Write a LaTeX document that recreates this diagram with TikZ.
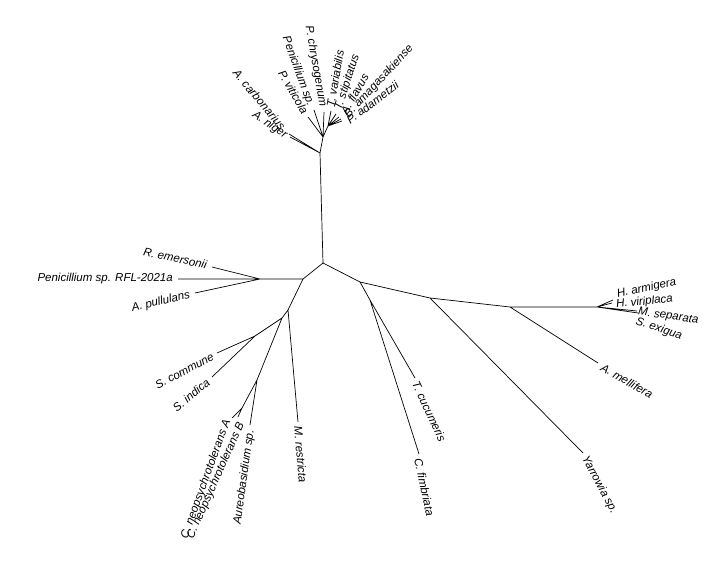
\documentclass[tikz,border=0pt]{standalone}
\usepackage{fontspec}
\setmainfont{Liberation Sans}
\usetikzlibrary{calc}
\begin{document}
\begin{tikzpicture}[x=1pt,y=-1pt,
  br/.style={draw=black,line width=0.7pt},
  lab/.style={font=\itshape\fontsize{11.5}{13}\selectfont,inner sep=1pt}]
\useasboundingbox (0,0) rectangle (728,572);
% internal nodes
\coordinate (R) at (323,263);
\coordinate (T1) at (320,153);
\coordinate (T2) at (323,137);
\coordinate (T3) at (328,126);
\coordinate (N1) at (360,282);
\coordinate (Nt) at (370,300);
\coordinate (N2) at (430,298);
\coordinate (N3) at (510,307);
\coordinate (N4) at (597,307);
\coordinate (L1) at (303,279);
\coordinate (L2) at (260,279);
\coordinate (L3) at (288,310);
\coordinate (L4) at (282,318);
\coordinate (L5) at (255,336);
\coordinate (L6) at (257,380);
\coordinate (L7) at (242,408);
% leaves
\coordinate (carb) at (289,134);
\coordinate (nig) at (290,137);
\coordinate (vit) at (308,117);
\coordinate (pen) at (314,110);
\coordinate (chr) at (324,112);
\coordinate (var) at (331,111);
\coordinate (sti) at (336,114);
\coordinate (fla) at (339,117);
\coordinate (ama) at (341,119);
\coordinate (ada) at (342,121);
\coordinate (cuc) at (415,378);
\coordinate (fim) at (419,454);
\coordinate (yar) at (583,453);
\coordinate (mel) at (598,363);
\coordinate (arm) at (613,300);
\coordinate (vir) at (612,303);
\coordinate (sep) at (637,311);
\coordinate (exi) at (638,313);
\coordinate (eme) at (212,267);
\coordinate (rfl) at (178,279);
\coordinate (pul) at (195,293);
\coordinate (com) at (217,353);
\coordinate (ind) at (212,377);
\coordinate (neoA) at (232,418);
\coordinate (neoB) at (238,417);
\coordinate (aur) at (250,425);
\coordinate (res) at (298,422);
% branches
\draw[br] (R)--(T1) (T1)--(carb) (T1)--(nig) (T1)--(T2) (T2)--(vit) (T2)--(pen) (T2)--(chr) (T2)--(T3)
  (T3)--(var) (T3)--(sti) (T3)--(fla) (T3)--(ama) (T3)--(ada);
\draw[br] (R)--(N1) (N1)--(Nt) (Nt)--(cuc) (Nt)--(fim) (N1)--(N2) (N2)--(yar) (N2)--(N3) (N3)--(mel) (N3)--(N4)
  (N4)--(arm) (N4)--(vir) (N4)--(sep) (N4)--(exi);
\draw[br] (R)--(L1) (L1)--(L2) (L2)--(eme) (L2)--(rfl) (L2)--(pul) (L1)--(L3) (L3)--(res) (L3)--(L4)
  (L4)--(L5) (L5)--(com) (L5)--(ind) (L4)--(L6) (L6)--(aur) (L6)--(L7) (L7)--(neoA) (L7)--(neoB);
% labels
\node[lab,anchor=east,rotate=-50] (tcarb) at ($(carb)+(-5,-5)$) {A. carbonarius};
\node[lab,anchor=east,rotate=-35] (tnig) at ($(nig)+(-3,0)$) {A. niger};
\node[lab,anchor=east,rotate=-60] (tvit) at ($(vit)+(-2,-3)$) {P. viticola};
\node[lab,anchor=east,rotate=-70] (tpen) at ($(pen)+(-3,-3)$) {Penicillium sp.};
\node[lab,anchor=east,rotate=-80] (tchr) at ($(chr)+(-1,-4)$) {P. chrysogenum};
\node[lab,anchor=west,rotate=80] (tvar) at ($(var)+(-1,-3)$) {T. variabilis};
\node[lab,anchor=west,rotate=72] (tsti) at ($(sti)+(2,-3)$) {T. stipitatus};
\node[lab,anchor=west,rotate=60] (tfla) at ($(fla)+(4,-3)$) {A. flavus};
\node[lab,anchor=west,rotate=47] (tama) at ($(ama)+(5,-2)$) {B. amagasakiense};
\node[lab,anchor=west,rotate=37] (tada) at ($(ada)+(5,1)$) {P. adametzii};
\node[lab,anchor=west,rotate=-65] (tcuc) at ($(cuc)+(0,3)$) {T. cucumeris};
\node[lab,anchor=west,rotate=-78] (tfim) at ($(fim)+(-1,3)$) {C. fimbriata};
\node[lab,anchor=west,rotate=-62] (tyar) at ($(yar)+(1,3)$) {Yarrowia sp.};
\node[lab,anchor=west,rotate=-30] (tmel) at ($(mel)+(3,3)$) {A. mellifera};
\node[lab,anchor=west,rotate=12] (tarm) at ($(arm)+(3,-5)$) {H. armigera};
\node[lab,anchor=west,rotate=6] (tvir) at ($(vir)+(3,2)$) {H. viriplaca};
\node[lab,anchor=west,rotate=-8] (tsep) at ($(sep)+(0,1)$) {M. separata};
\node[lab,anchor=west,rotate=-18] (texi) at ($(exi)+(-3,8)$) {S. exigua};
\node[lab,anchor=east,rotate=-12] (teme) at ($(eme)+(-4,-2)$) {R. emersonii};
\node[lab,anchor=east] (trfl) at ($(rfl)+(-4,0)$) {Penicillium sp. RFL-2021a};
\node[lab,anchor=east,rotate=13] (tpul) at ($(pul)+(-4,2)$) {A. pullulans};
\node[lab,anchor=east,rotate=28] (tcom) at ($(com)+(-3,2)$) {S. commune};
\node[lab,anchor=east,rotate=40] (tind) at ($(ind)+(-3,3)$) {S. indica};
\node[lab,anchor=east,rotate=70] (tneoA) at ($(neoA)+(-4,1)$) {C. neopsychrotolerans A};
\node[lab,anchor=east,rotate=66] (tneoB) at ($(neoB)+(4,5)$) {C. neopsychrotolerans B};
\node[lab,anchor=east,rotate=82] (taur) at ($(aur)+(1,4)$) {Aureobasidium sp.};
\node[lab,anchor=west,rotate=-85] (tres) at ($(res)+(0,3)$) {M. restricta};
\end{tikzpicture}
\end{document}
